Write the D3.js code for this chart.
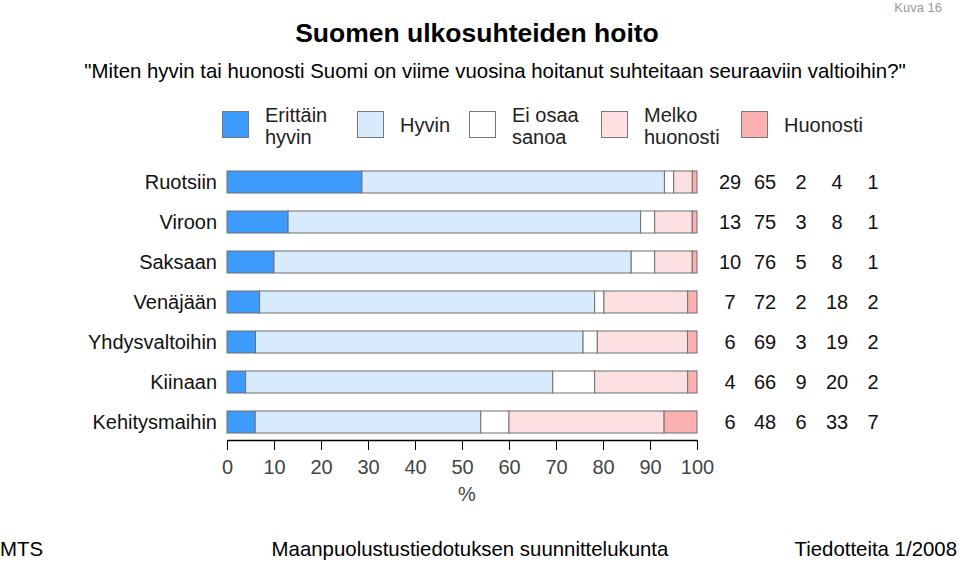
<!DOCTYPE html>
<html><head><meta charset="utf-8">
<script src="https://cdn.jsdelivr.net/npm/d3@7"></script>
<style>body{margin:0;background:#fff;} text{font-family:"Liberation Sans",Arial,sans-serif;}</style>
</head><body>
<svg id="c" width="959" height="561"></svg>
<script>
const categories = ["Ruotsiin","Viroon","Saksaan","Venäjään","Yhdysvaltoihin","Kiinaan","Kehitysmaihin"];
const seriesNames = ["Erittäin hyvin","Hyvin","Ei osaa sanoa","Melko huonosti","Huonosti"];
const legendLines = [["Erittäin","hyvin"],["Hyvin"],["Ei osaa","sanoa"],["Melko","huonosti"],["Huonosti"]];
const erittainHyvin = [29,13,10,7,6,4,6];
const hyvin = [65,75,76,72,69,66,48];
const eiOsaa = [2,3,5,2,3,9,6];
const melkoHuonosti = [4,8,8,18,19,20,33];
const huonosti = [1,1,1,2,2,2,7];
const xTicks = [0,10,20,30,40,50,60,70,80,90,100];
const colors = ["#3d9bfd","#d8ebfc","#ffffff","#fde0e1","#fbb1b2"];

const series = [erittainHyvin,hyvin,eiOsaa,melkoHuonosti,huonosti];
const rows = categories.map((c,i)=>{
  const o = {cat:c};
  const tot = d3.sum(series, s=>s[i]);
  seriesNames.forEach((n,k)=>{ o[n] = series[k][i]*100/tot; o["raw"+k]=series[k][i]; });
  return o;
});
const stacked = d3.stack().keys(seriesNames)(rows);

const svg = d3.select("#c");
const x = d3.scaleLinear().domain([0,100]).range([227,697]);
const y = d3.scaleBand().domain(categories).range([162,442]).paddingInner(0.45).paddingOuter(0.225);

// titles
svg.append("text").attr("x",942).attr("y",12).attr("text-anchor","end").attr("font-size",13).attr("fill","#999").text("Kuva 16");
svg.append("text").attr("x",477).attr("y",42).attr("text-anchor","middle").attr("font-size",26.5).attr("font-weight","bold").attr("fill","#000").text("Suomen ulkosuhteiden hoito");
svg.append("text").attr("x",495).attr("y",78).attr("text-anchor","middle").attr("font-size",20.4).attr("fill","#000").text("\"Miten hyvin tai huonosti Suomi on viime vuosina hoitanut suhteitaan seuraaviin valtioihin?\"");

// legend
const legX = [222,357,469,601,741];
seriesNames.forEach((n,k)=>{
  const g = svg.append("g");
  g.append("rect").attr("x",legX[k]+0.5).attr("y",111.5).attr("width",26).attr("height",26).attr("fill",colors[k]).attr("stroke","#777").attr("stroke-width",1);
  const lines = legendLines[k];
  lines.forEach((t,j)=>{
    const yy = lines.length===1 ? 132 : 122 + j*22;
    g.append("text").attr("x",legX[k]+43).attr("y",yy).attr("font-size",20).attr("fill","#222").text(t);
  });
});

// bars
svg.append("g").selectAll("g").data(stacked).join("g")
  .attr("fill",(d,k)=>colors[k])
  .selectAll("rect").data(d=>d).join("rect")
  .attr("x",d=>x(d[0])).attr("width",d=>x(d[1])-x(d[0]))
  .attr("y",d=>y(d.data.cat)).attr("height",y.bandwidth())
  .attr("stroke","#6f6f6f").attr("stroke-width",1);

// category labels
svg.append("g").selectAll("text").data(categories).join("text")
  .attr("x",217).attr("y",d=>y(d)+y.bandwidth()/2+7).attr("text-anchor","end")
  .attr("font-size",20).attr("fill","#111").text(d=>d);

// numbers
const colX = [730,765,801,837,873];
rows.forEach(r=>{
  seriesNames.forEach((n,k)=>{
    svg.append("text").attr("x",colX[k]).attr("y",y(r.cat)+y.bandwidth()/2+7).attr("text-anchor","middle")
      .attr("font-size",20).attr("fill","#111").text(r["raw"+k]);
  });
});

// axis
const ax = svg.append("g").attr("transform","translate(0,440)")
  .call(d3.axisBottom(x).tickValues(xTicks).tickSize(10).tickPadding(10).tickSizeOuter(0));
ax.select(".domain").attr("stroke","#000").attr("stroke-width",1.5);
ax.selectAll(".tick line").attr("stroke","#000");
ax.selectAll(".tick text").attr("font-size",20).attr("fill","#444").attr("font-family","Liberation Sans, Arial, sans-serif");
svg.append("text").attr("x",467).attr("y",501).attr("text-anchor","middle").attr("font-size",20).attr("fill","#444").text("%");

// footer
svg.append("text").attr("x",0).attr("y",556).attr("font-size",20.4).attr("fill","#000").text("MTS");
svg.append("text").attr("x",470).attr("y",556).attr("text-anchor","middle").attr("font-size",20.4).attr("fill","#000").text("Maanpuolustustiedotuksen suunnittelukunta");
svg.append("text").attr("x",957).attr("y",556).attr("text-anchor","end").attr("font-size",20.4).attr("fill","#000").text("Tiedotteita 1/2008");
</script>
</body></html>
